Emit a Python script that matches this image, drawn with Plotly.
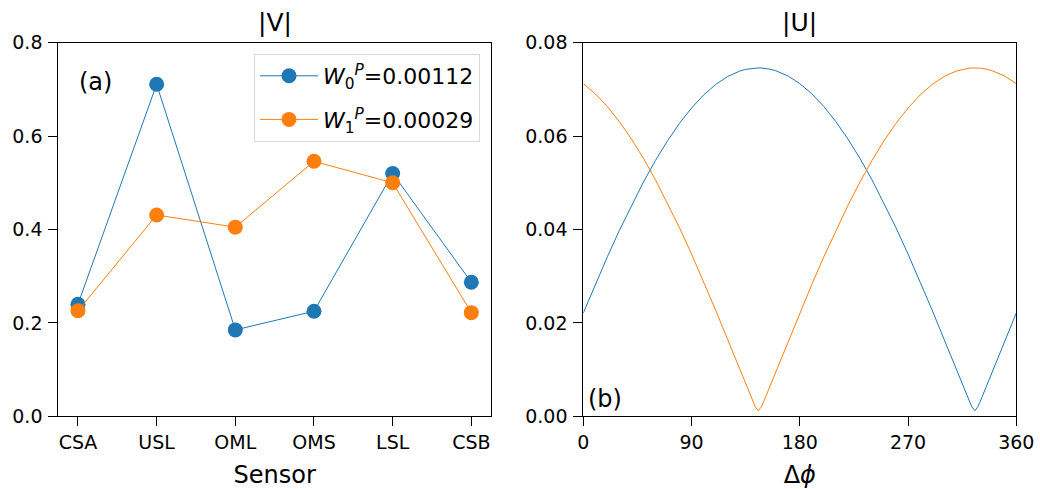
import plotly.graph_objects as go

# ---- panel (a) data ----
sensors = ["CSA", "USL", "OML", "OMS", "LSL", "CSB"]
v_w0 = [0.240, 0.711, 0.185, 0.225, 0.520, 0.287]
v_w1 = [0.226, 0.431, 0.405, 0.546, 0.500, 0.222]
name_w0 = "<i>W</i><sub>0</sub><sup><i>P</i></sup>=0.00112"
name_w1 = "<i>W</i><sub>1</sub><sup><i>P</i></sup>=0.00029"

# ---- panel (b) data ----
dphi = [0, 10, 20, 30, 40, 50, 60, 70, 80, 90, 100, 110, 120, 130, 135, 140, 143, 145.5,
        148, 150, 155, 160, 170, 180, 190, 200, 210, 220, 230, 240, 250, 260, 270, 280,
        290, 300, 310, 315, 320, 323, 325.5, 328, 330, 335, 340, 350, 360]
u_w0 = [0.02212, 0.02825, 0.03416, 0.03981, 0.04516, 0.05016, 0.05478, 0.05899, 0.06274,
        0.06602, 0.06880, 0.07105, 0.07276, 0.07392, 0.07429, 0.07451, 0.07459, 0.07460,
        0.07459, 0.07454, 0.07434, 0.07400, 0.07290, 0.07124, 0.06904, 0.06632, 0.06309,
        0.05938, 0.05522, 0.05064, 0.04567, 0.04036, 0.03473, 0.02885, 0.02275, 0.01646,
        0.01013, 0.00693, 0.00378, 0.00202, 0.00120, 0.00202, 0.00317, 0.00630, 0.00949,
        0.01583, 0.02212]
u_w1 = [0.07124, 0.06904, 0.06632, 0.06309, 0.05938, 0.05522, 0.05064, 0.04567, 0.04036,
        0.03473, 0.02885, 0.02275, 0.01646, 0.01013, 0.00693, 0.00378, 0.00202, 0.00120,
        0.00202, 0.00317, 0.00630, 0.00949, 0.01583, 0.02212, 0.02825, 0.03416, 0.03981,
        0.04516, 0.05016, 0.05478, 0.05899, 0.06274, 0.06602, 0.06880, 0.07105, 0.07276,
        0.07392, 0.07429, 0.07451, 0.07459, 0.07460, 0.07459, 0.07454, 0.07434, 0.07400,
        0.07290, 0.07124]

BLUE = "#1f77b4"
ORANGE = "#ff7f0e"
FONT = "DejaVu Sans"

fig = go.Figure()
fig.add_trace(go.Scatter(x=sensors, y=v_w0, mode="lines+markers", name=name_w0,
                         legendgroup="g0",
                         line=dict(color=BLUE, width=1), marker=dict(size=15, color=BLUE),
                         xaxis="x", yaxis="y"))
fig.add_trace(go.Scatter(x=sensors, y=v_w1, mode="lines+markers", name=name_w1,
                         legendgroup="g1",
                         line=dict(color=ORANGE, width=1), marker=dict(size=15, color=ORANGE),
                         xaxis="x", yaxis="y"))
fig.add_trace(go.Scatter(x=dphi, y=u_w0, mode="lines", showlegend=False,
                         line=dict(color=BLUE, width=1), xaxis="x2", yaxis="y2"))
fig.add_trace(go.Scatter(x=dphi, y=u_w1, mode="lines", showlegend=False,
                         line=dict(color=ORANGE, width=1), xaxis="x2", yaxis="y2"))

axis_common = dict(showline=True, linecolor="black", linewidth=1, mirror=True,
                   ticks="outside", ticklen=9, tickwidth=1, tickcolor="black",
                   showgrid=False, zeroline=False, automargin=False,
                   tickfont=dict(family=FONT, size=19, color="black"))

ytop = 1 - 42.7 / 489
ybot = 1 - 416.3 / 489

fig.update_layout(
    width=1040, height=489,
    margin=dict(l=0, r=0, t=0, b=0, autoexpand=False),
    paper_bgcolor="white", plot_bgcolor="white",
    font=dict(family=FONT, color="black"),
    xaxis=dict(domain=[58.3 / 1040, 491 / 1040], range=[-0.25, 5.25], type="category",
               anchor="y", title=dict(text="Sensor", font=dict(size=24), standoff=15),
               **axis_common),
    yaxis=dict(domain=[ybot, ytop], range=[0, 0.8], dtick=0.2, tickformat=".1f",
               anchor="x", ticklabelstandoff=2, **axis_common),
    xaxis2=dict(domain=[583.3 / 1040, 1016.3 / 1040], range=[0, 360],
                tickvals=[0, 90, 180, 270, 360], anchor="y2",
                title=dict(text="Δ<i>ϕ</i>", font=dict(size=24), standoff=15),
                **axis_common),
    yaxis2=dict(domain=[ybot, ytop], range=[0, 0.08], dtick=0.02, tickformat=".2f",
                anchor="x2", ticklabelstandoff=2, **axis_common),
    legend=dict(x=480 / 1040, xanchor="right", y=1 - 54 / 489, yanchor="top",
                bgcolor="rgba(255,255,255,0.8)", bordercolor="#d8d8d8", borderwidth=1,
                tracegroupgap=12, itemwidth=58,
                font=dict(family=FONT, size=22, color="black")),
    annotations=[
        dict(text="|V|", x=(58.3 + 491) / 2 / 1040, y=1 - 22 / 489, xref="paper", yref="paper",
             showarrow=False, font=dict(size=25), xanchor="center", yanchor="middle"),
        dict(text="|U|", x=(583.3 + 1016.3) / 2 / 1040, y=1 - 22 / 489, xref="paper",
             yref="paper", showarrow=False, font=dict(size=25), xanchor="center",
             yanchor="middle"),
        dict(text="(a)", x=77 / 1040, y=1 - 82 / 489, xref="paper", yref="paper",
             showarrow=False, font=dict(size=24), xanchor="left", yanchor="middle"),
        dict(text="(b)", x=586 / 1040, y=1 - 399 / 489, xref="paper", yref="paper",
             showarrow=False, font=dict(size=24), xanchor="left", yanchor="middle"),
    ],
)

fig.write_html("out.html")
